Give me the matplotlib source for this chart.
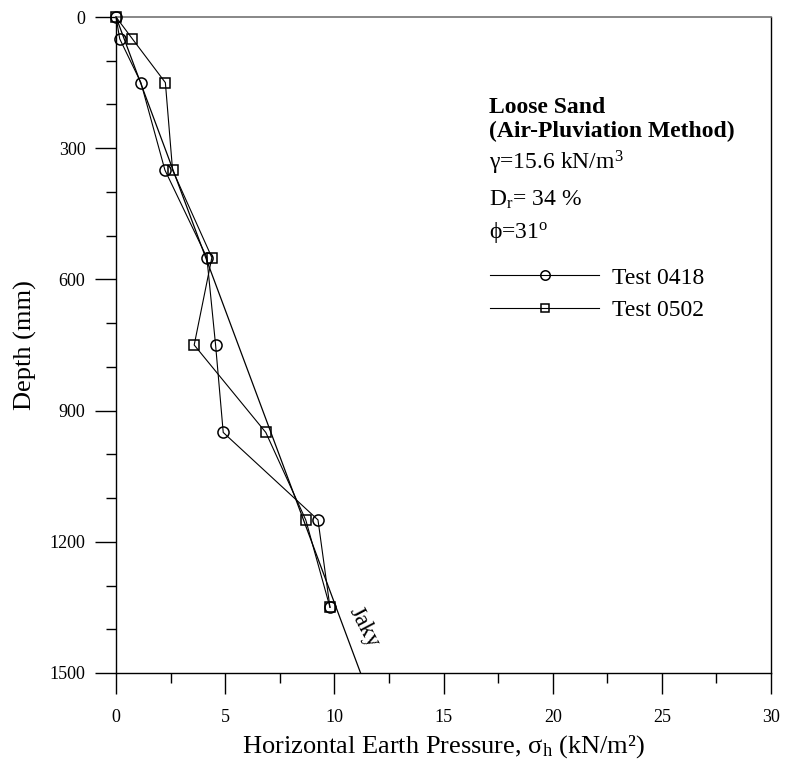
import matplotlib
matplotlib.use('Agg')
import matplotlib.pyplot as plt
from matplotlib.ticker import MultipleLocator

plt.rcParams['font.family'] = ['Liberation Serif', 'DejaVu Serif']
plt.rcParams['mathtext.fontset'] = 'custom'
plt.rcParams['mathtext.rm'] = 'Liberation Serif'
plt.rcParams['mathtext.it'] = 'Liberation Serif:italic'
plt.rcParams['mathtext.bf'] = 'Liberation Serif:bold'

# Profundidades de medicion (mm) y presiones horizontales (kN/m2)
depth = [0, 50, 150, 350, 550, 750, 950, 1150, 1350]
test_0418 = [0, 0.17, 1.14, 2.24, 4.16, 4.56, 4.91, 9.25, 9.8]
test_0502 = [0, 0.75, 2.26, 2.59, 4.39, 3.58, 6.86, 8.69, 9.8]

# Linea de Jaky (K0 = 1 - sin(phi))
jaky_depth = [0, 1500]
jaky_sigma = [0, 11.2]

fig = plt.figure(figsize=(7.85, 7.67), dpi=100)
ax = fig.add_axes([0.1478, 0.1226, 0.8344, 0.8552])

ax.plot(test_0418, depth, color='black', lw=0.8, marker='o', ms=8,
        mfc='none', mec='black', mew=1.1, label='Test 0418', clip_on=False, zorder=3)
ax.plot(test_0502, depth, color='black', lw=0.8, marker='s', ms=7.5,
        mfc='none', mec='black', mew=1.1, label='Test 0502', clip_on=False, zorder=3)
ax.plot(jaky_sigma, jaky_depth, color='black', lw=0.9)
ax.text(11.35, 1395, 'Jaky', fontsize=17, rotation=-62, ha='center', va='center')

ax.set_xlim(0, 30)
ax.set_ylim(1500, 0)
ax.xaxis.set_major_locator(MultipleLocator(5))
ax.xaxis.set_minor_locator(MultipleLocator(2.5))
ax.yaxis.set_major_locator(MultipleLocator(300))
ax.yaxis.set_minor_locator(MultipleLocator(100))
ax.tick_params(which='major', direction='out', length=15, width=1, labelsize=13, color='black')
ax.tick_params(which='minor', direction='out', length=7.5, width=1, color='black')
ax.tick_params(axis='x', which='major', pad=11)
ax.tick_params(axis='y', which='major', pad=7)

for side in ['left', 'bottom', 'right']:
    ax.spines[side].set_linewidth(1.0)
ax.spines['top'].set_color('0.45')
ax.spines['top'].set_linewidth(1.2)

ax.set_xlabel('Horizontal Earth Pressure, σ$_\\mathrm{h}$ (kN/m²)', fontsize=19, labelpad=5)
ax.set_ylabel('Depth (mm)', fontsize=19, labelpad=9)

# Descripcion del ensayo
ax.text(17.1, 206, 'Loose Sand', fontsize=17, fontweight='bold', va='center')
ax.text(17.1, 261, '(Air-Pluviation Method)', fontsize=17, fontweight='bold', va='center')
ax.text(17.1, 334, 'γ=15.6 kN/m$^\\mathrm{3}$', fontsize=17, va='center')
ax.text(17.1, 418, 'D$_\\mathrm{r}$= 34 %', fontsize=17, va='center')
ax.text(17.1, 492, 'ϕ=31$^\\mathrm{o}$', fontsize=17, va='center')

leg = ax.legend(loc='upper left', bbox_to_anchor=(0.557, 0.633), frameon=False,
                fontsize=17, handlelength=4.6, handletextpad=0.55, labelspacing=0.45,
                markerscale=0.85, borderaxespad=0)

fig.savefig('out.png', dpi=100)
